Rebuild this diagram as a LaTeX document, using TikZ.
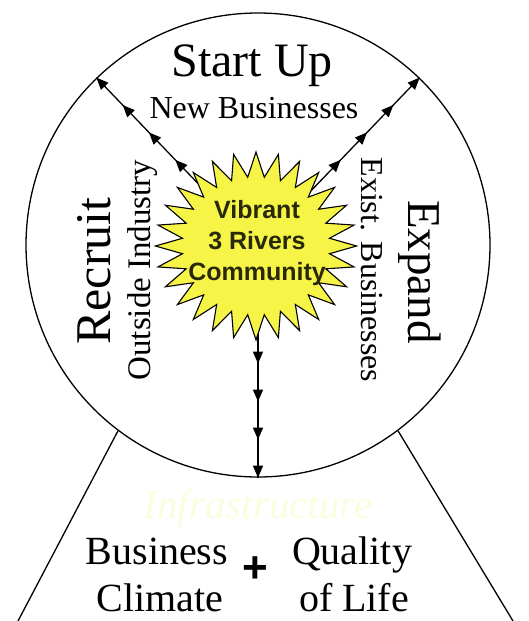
\documentclass[tikz,border=0pt]{standalone}
\usepackage{fontspec}
\setmainfont{Liberation Serif}
\newfontfamily\hubfont{Liberation Sans}
\usetikzlibrary{shapes.geometric,arrows.meta,decorations.markings}
\definecolor{sunfill}{RGB}{246,244,70}
\definecolor{sunink}{RGB}{40,40,10}
\definecolor{paleyellow}{RGB}{251,253,222}
\begin{document}
\begin{tikzpicture}[x=1pt,y=-1pt,
  rim/.style={line width=1.3pt},
  flow/.style={line width=1.3pt, postaction={decorate},
    decoration={markings,
      mark=at position -114pt with {\arrow{Triangle[length=12pt,width=10pt]}},
      mark=at position -76pt with {\arrow{Triangle[length=12pt,width=10pt]}},
      mark=at position -38pt with {\arrow{Triangle[length=12pt,width=10pt]}},
      mark=at position 1 with {\arrow{Triangle[length=12pt,width=10pt]}}}},
  wordtext/.style={anchor=base, inner sep=0pt}]
\useasboundingbox (0,0) rectangle (529,621);

% wheel and base
\node[circle, draw, rim, minimum size=464pt, inner sep=0pt] (wheel) at (258,245) {};
\coordinate (baseL) at (18,621);
\coordinate (baseR) at (513,621);
\draw[rim] (wheel.233) -- (baseL);
\draw[rim] (wheel.307) -- (baseR);

% arrows out of the hub
\coordinate (core) at (258,246);
\draw[flow] (core) -- (wheel.134);
\draw[flow] (core) -- (wheel.46);
\draw[flow] (core) -- (wheel.south);

\node[star, star points=28, star point ratio=1.36, minimum size=188pt, xscale=1.07,
  inner sep=0pt, draw, line width=1.1pt, fill=sunfill] (hub) at (256,246) {};
\node[align=center, text=sunink, font=\hubfont\bfseries\fontsize{25}{31}\selectfont]
  (vibrant) at (257,243) {Vibrant\\3 Rivers\\Community};

% top
\node[wordtext, font=\fontsize{48}{48}\selectfont] (startup) at (252,76) {Start Up};
\node[wordtext, font=\fontsize{32}{32}\selectfont] (newbiz) at (254,118) {New Businesses};

% sides
\node[wordtext, rotate=90, font=\fontsize{50}{50}\selectfont] (recruit) at (110,271) {Recruit};
\node[wordtext, rotate=90, font=\fontsize{33}{33}\selectfont] (outside) at (150,270) {Outside Industry};
\node[wordtext, rotate=-90, font=\fontsize{47}{47}\selectfont] (expand) at (408,272) {Expand};
\node[wordtext, rotate=-90, font=\fontsize{32}{32}\selectfont] (exist) at (361,270) {Exist. Businesses};

% base
\node[wordtext, text=paleyellow, font=\itshape\fontsize{41}{41}\selectfont] (infra) at (258,518) {Infrastructure};
\node[wordtext, font=\fontsize{40}{40}\selectfont] (business) at (157,564) {Business};
\node[wordtext, font=\fontsize{40}{40}\selectfont] (climate) at (160,611) {Climate};
\node[wordtext, font=\fontsize{40}{40}\selectfont] (quality) at (352,564) {Quality};
\node[wordtext, font=\fontsize{40}{40}\selectfont] (oflife) at (354,611) {of Life};
\node[font=\hubfont\bfseries\fontsize{44}{44}\selectfont] (plus) at (255,570) {+};
\end{tikzpicture}
\end{document}
